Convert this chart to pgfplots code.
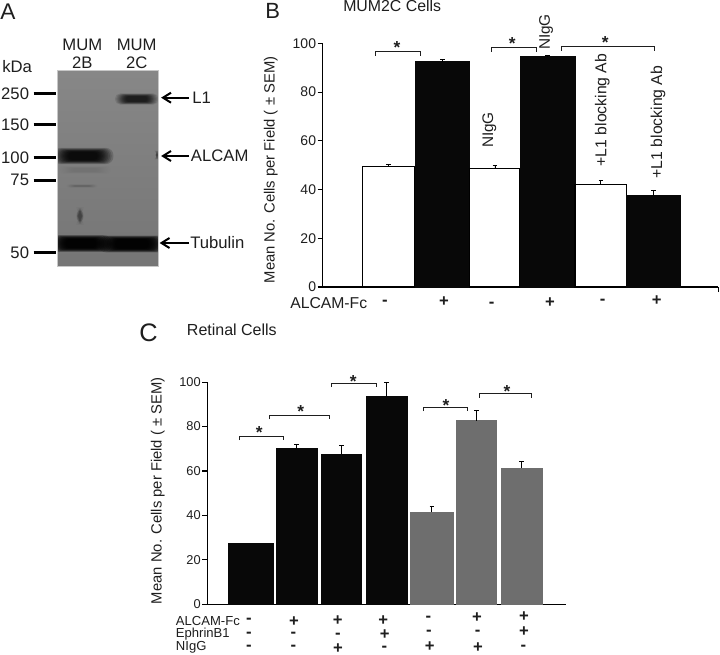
\documentclass[border=0pt]{standalone}
\usepackage{fontspec}
\setmainfont{Liberation Sans}
\usepackage{pgfplots}
\pgfplotsset{compat=1.18}

\definecolor{ink}{HTML}{1E1E1E}
\definecolor{barblack}{HTML}{080808}
\definecolor{bargray}{HTML}{6E6E6E}

\newcommand{\fs}[1]{\fontsize{#1}{#1}\selectfont}

\pgfplotsset{
  panel/.style={
    scale only axis,
    axis lines=left,
    axis line style={-,line width=0.95pt,black},
    tick style={black,line width=0.8pt},
    major tick length=3.8pt,
    tick align=outside,
    ymin=0, ymax=100,
    ytick={0,20,40,60,80,100},
    xticklabels={},
    clip=false,
    /pgf/number format/assume math mode=true,
    yticklabel style={text=ink,inner sep=1pt},
  },
  whitebar/.style={ybar,bar shift=0pt,draw=black,fill=white,line width=0.95pt},
  blackbar/.style={ybar,bar shift=0pt,draw=barblack,fill=barblack,line width=0.4pt},
  graybar/.style={ybar,bar shift=0pt,draw=bargray,fill=bargray,line width=0.4pt},
  sem/.style={error bars/.cd,y dir=plus,y explicit,
    error bar style={line width=0.6pt,black},
    error mark options={mark size=1.7pt,line width=0.6pt,black,rotate=90}},
}

% fuzzy blot band: x, y, half width, half height, opacity (pixels)
\newcommand{\band}[5]{%
  \foreach \s in {1.45,1.36,1.28,1.2,1.13,1.07,1.01,0.95,0.89,0.83,0.77,0.7}{%
    \fill[black,opacity=#5,rounded corners={#4*\s*0.7pt}]
      ({#1-#3*\s},{#2-#4*\s}) rectangle ({#1+#3*\s},{#2+#4*\s});}}
% bracket: left, right, top, bottom (pixels)
\newcommand{\bracket}[4]{\draw[ink,line width=0.7pt] (#1,#4)--(#1,#3)--(#2,#3)--(#2,#4);}
\newcommand{\signP}[2]{\node[ink,inner sep=0pt,font=\fs{12.5}\bfseries] at (#1,#2) {+};}
\newcommand{\signM}[2]{\node[ink,inner sep=0pt,font=\fs{12.5}\bfseries] at (#1,#2) {-};}

\begin{document}
\begin{tikzpicture}
\path[use as bounding box] (0pt,0pt) rectangle (540pt,-491.25pt);

% panel B
\begin{axis}[panel,
    at={(242.03pt,-215.25pt)}, anchor=south west,
    width=296.5pt, height=182.75pt,
    xmin=322.7, xmax=718,
    xtick={718},
    yticklabel style={font=\fs{10.5}},
  ]
  \addplot[whitebar,bar width=39.5pt,sem] coordinates {(388.6,49.5) +- (0,1.0)};
  \addplot[blackbar,bar width=41pt,sem] coordinates {(442.4,92.5) +- (0,1.0)};
  \addplot[whitebar,bar width=37.7pt,sem] coordinates {(494.9,48.5) +- (0,1.6)};
  \addplot[blackbar,bar width=41.2pt,sem] coordinates {(547.5,94.5) +- (0,0.5)};
  \addplot[whitebar,bar width=38.7pt,sem] coordinates {(600.8,42.2) +- (0,1.6)};
  \addplot[blackbar,bar width=40pt,sem] coordinates {(653.3,37.7) +- (0,2.0)};
\end{axis}

% panel C
\begin{axis}[panel,
    at={(155.5pt,-453.25pt)}, anchor=south west,
    width=268.75pt, height=166.7pt,
    xmin=207.3, xmax=565.7,
    xtick=\empty,
    yticklabel style={font=\fs{9.6}},
  ]
  \addplot[blackbar,bar width=33.5pt] coordinates {(251,27.3)};
  \addplot[blackbar,bar width=31pt,sem] coordinates {(296.7,70.0) +- (0,1.8)};
  \addplot[blackbar,bar width=30.2pt,sem] coordinates {(341.5,67.6) +- (0,3.8)};
  \addplot[blackbar,bar width=30.7pt,sem] coordinates {(386.5,93.4) +- (0,6.5)};
  \addplot[graybar,bar width=31.7pt,sem] coordinates {(431.9,41.5) +- (0,2.5)};
  \addplot[graybar,bar width=30pt,sem] coordinates {(476.7,82.6) +- (0,4.5)};
  \addplot[graybar,bar width=30.5pt,sem] coordinates {(521.7,61.3) +- (0,3.0)};
\end{axis}

\begin{scope}[x=0.75pt,y=-0.75pt]

% panel A, the blot
\begin{scope}
  \clip (57.3,70.7) rectangle (158,266.7);
  \shade[top color=black!47,bottom color=black!54] (57.3,70.7) rectangle (158,266.7);
  \band{136.7}{99}{15}{3.8}{0.11}
  \band{83}{156}{21}{5.6}{0.17}
  \band{81}{243.5}{21}{5.8}{0.25}
  \band{132}{244}{23}{5.8}{0.25}
  \band{80}{216}{2.5}{6}{0.045}
  \band{82}{186}{11}{1.2}{0.012}
  \band{85}{170}{18}{2.5}{0.008}
  \band{157}{155}{1}{3}{0.05}
\end{scope}
\draw[black!22,line width=0.5pt] (57.3,70.7) rectangle (158,266.7);

\foreach \y/\t in {93.7/250,124.3/150,157.3/100,180.3/75,252.3/50}{
  \draw[black,line width=1.9pt] (33.5,\y)--(55.5,\y);
  \node[ink,anchor=east,inner sep=0pt,font=\fs{12.5}] at (29.3,\y) {\t};
}
\node[ink,anchor=base west,inner sep=0pt,font=\fs{12.5}] at (2,73) {kDa};
\node[ink,inner sep=0pt,font=\fs{12.5}] at (82.3,45) {MUM};
\node[ink,inner sep=0pt,font=\fs{12.5}] at (82.3,63) {2B};
\node[ink,inner sep=0pt,font=\fs{12.5}] at (136.7,45) {MUM};
\node[ink,inner sep=0pt,font=\fs{12.5}] at (136.7,63) {2C};
\foreach \y/\a/\b/\tx/\t in {97.7/162/189/192/L1,156/162/189/190.7/ALCAM,243/160.5/189/190/Tubulin}{
  \draw[black,line width=1.5pt] (\b,\y)--(\a+2,\y);
  \draw[black,line width=1.5pt] (\a+9,\y-5)--(\a+1,\y)--(\a+9,\y+5);
  \node[ink,anchor=west,inner sep=0pt,font=\fs{12.5}] at (\tx,\y) {\t};
}

% panel letters and titles
\node[ink,anchor=base west,inner sep=0pt,font=\fs{17}] at (0,20) {A};
\node[ink,anchor=base west,inner sep=0pt,font=\fs{16.5}] at (265,19) {B};
\node[ink,anchor=base west,inner sep=0pt,font=\fs{19}] at (139,342) {C};
\node[ink,anchor=base west,inner sep=0pt,font=\fs{11.9}] at (343,11.7) {MUM2C Cells};
\node[ink,anchor=base west,inner sep=0pt,font=\fs{12}] at (186.7,335.7) {Retinal Cells};

% y labels
\node[ink,rotate=90,inner sep=0pt,font=\fs{11.1}] at (270.7,170) {Mean No. Cells per Field ( ± SEM)};
\node[ink,rotate=90,inner sep=0pt,font=\fs{11.1}] at (157.7,490.7) {Mean No. Cells per Field ( ± SEM)};

% panel B annotations
\node[ink,rotate=90,inner sep=0pt,font=\fs{11.5}] at (489.3,130) {NIgG};
\node[ink,rotate=90,inner sep=0pt,font=\fs{11.5}] at (546,32) {NIgG};
\node[ink,rotate=90,inner sep=0pt,font=\fs{11.8}] at (602.3,110) {+L1 blocking Ab};
\node[ink,rotate=90,inner sep=0pt,font=\fs{11.8}] at (658,122) {+L1 blocking Ab};
\bracket{375.7}{420.7}{51.7}{56}
\bracket{491.3}{536}{47.3}{52}
\bracket{561.7}{654}{46}{50.7}
\foreach \x/\y in {397/45,512.3/40.7,605.3/39.3}{
  \node[ink,inner sep=0pt,font=\fs{13}\bfseries] at (\x,\y+3) {*};}
\node[ink,anchor=west,inner sep=0pt,font=\fs{11.8}] at (290,302.7) {ALCAM-Fc};
\signM{385}{302.7}
\signP{444}{301.7}
\signM{491.7}{305}
\signP{550}{302.7}
\signM{602.7}{302}
\signP{656.7}{301}

% panel C annotations
\bracket{239}{283.3}{436.3}{440}
\bracket{269}{329.3}{415.3}{419.3}
\bracket{331.7}{376}{383}{387}
\bracket{423}{467.3}{407.3}{411}
\bracket{479.7}{531.3}{393.7}{397.7}
\foreach \x/\y in {259.3/429.3,300.7/408.7,353.3/378.7,446/402.7,507/389}{
  \node[ink,inner sep=0pt,font=\fs{13}\bfseries] at (\x,\y+3) {*};}
\node[ink,anchor=west,inner sep=0pt,font=\fs{9.8}] at (175.7,621) {ALCAM-Fc};
\node[ink,anchor=west,inner sep=0pt,font=\fs{9.8}] at (175.7,634) {EphrinB1};
\node[ink,anchor=west,inner sep=0pt,font=\fs{9.8}] at (175.7,647.7) {NIgG};
\signM{249}{621}
\signP{294}{622}
\signP{337.7}{621}
\signP{383.3}{620.3}
\signM{428.3}{619}
\signP{477}{617.7}
\signP{524}{617}
\signM{249}{635}
\signM{293.3}{634.7}
\signM{338}{635.7}
\signP{384.7}{634.3}
\signM{429}{633.3}
\signM{477.7}{632.7}
\signP{524}{632}
\signM{249}{647.7}
\signM{293.3}{647.7}
\signP{338}{648.5}
\signM{384.3}{648.5}
\signP{429.7}{647}
\signP{478}{647.7}
\signM{523.3}{647.7}
\end{scope}
\end{tikzpicture}
\end{document}
